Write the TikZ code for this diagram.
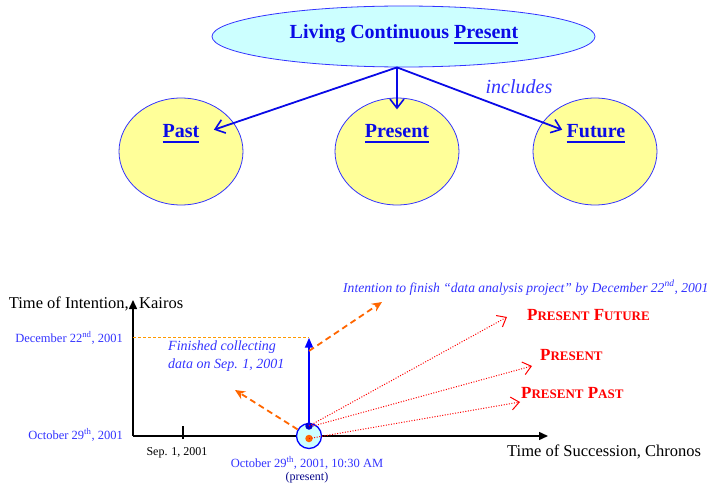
\documentclass[tikz,border=0pt]{standalone}
\usepackage{fontspec}
\setmainfont{Liberation Serif}[
	ItalicFont={Liberation Serif Italic},
	BoldFont={Liberation Serif Bold},
	BoldItalicFont={Liberation Serif Bold Italic}
]
\usetikzlibrary{
	arrows.meta,shapes.geometric,positioning,calc
}
\definecolor{lcpcyan}{RGB}{204,255,255}
\definecolor{circyellow}{RGB}{255,255,153}
\definecolor{deepblue}{RGB}{10,10,230}
\definecolor{lightblue}{RGB}{51,51,255}
\definecolor{dashorange}{RGB}{255,102,0}
\definecolor{dotorange}{RGB}{255,153,0}
\definecolor{presred}{RGB}{255,0,0}
\newcommand{\thickul}[1]{\setbox0\hbox{#1}\rlap{\copy0}\rule[-4.6pt]{\wd0}{1.6pt}}
\newcommand{\fakesc}[2]{#1{\fontsize{13}{15}\selectfont #2}}
\tikzset{
	bigellipse/.style={
		ellipse, minimum width=383pt, minimum height=61pt, inner sep=0pt,
		draw=lightblue, fill=lcpcyan, line width=0.8pt
	},
	%
	yellowcirc/.style={
		ellipse, minimum width=124pt, minimum height=107pt, inner sep=0pt,
		draw=lightblue, fill=circyellow, line width=0.8pt
	},
	%
	biglabel/.style={
		text=deepblue, font=\fontsize{20}{24}\selectfont\bfseries
	},
	%
	toparrow/.style={
		draw=deepblue, line width=1.8pt, -{Straight Barb[length=9pt,width=14pt,line width=1.6pt]}
	},
	%
	axislabel/.style={
		inner sep=0pt, font=\fontsize{16.5}{19}\selectfont
	},
	%
	datelabel/.style={
		inner sep=0pt, text=lightblue, font=\fontsize{12.5}{15}\selectfont
	},
	%
	notelabel/.style={
		inner sep=0pt, text=lightblue, font=\fontsize{14}{17}\selectfont\itshape
	},
	%
	sclabel/.style={
		inner sep=0pt, text=presred, font=\fontsize{17}{20}\selectfont\bfseries
	},
	%
	axisline/.style={
		draw=black, line width=1.5pt, -{Triangle[length=9pt,width=8pt]}
	},
	%
	intentarrow/.style={
		draw=dashorange, line width=1.8pt, dash pattern=on 6pt off 4pt,
		-{Stealth[length=10pt,width=9pt]}
	},
	%
	presarrow/.style={
		draw=presred, line width=1pt, dash pattern=on 1pt off 1.6pt,
		-{Straight Barb[length=8pt,width=13pt]}
	}
}

\begin{document}
\begin{tikzpicture}[x=1pt,y=-1pt]
	\useasboundingbox (0,0) rectangle (716,487);
	% living continuous present
	\node(lcp)[bigellipse] at (403.5,36.5){};
	\node(lcptext)[biglabel, anchor=base] at (404,39){Living Continuous \thickul{Present}};
	\node(pastcirc)[yellowcirc] at (181,151.5){};
	\node(prescirc)[yellowcirc] at (397,151.5){};
	\node(futcirc)[yellowcirc] at (595,151.5){};
	\node(pastlbl)[biglabel, anchor=base] at (181,138){\thickul{Past}};
	\node(preslbl)[biglabel, anchor=base] at (397,138){\thickul{Present}};
	\node(futlbl)[biglabel, anchor=base] at (596,138){\thickul{Future}};
	\coordinate(hub) at (lcp.south -| prescirc.center);
	\draw[toparrow] (hub) -- ([xshift=11pt,yshift=4pt]pastlbl.east);
	\draw[toparrow] (hub) -- ([yshift=12pt]preslbl.north);
	\draw[toparrow] (hub) -- ([xshift=-1pt,yshift=4pt]futlbl.west);
	\node(incl)[text=lightblue, font=\fontsize{20}{24}\selectfont\itshape] at (519,87){includes};
	% kairos and chronos axes
	\coordinate(O) at (133,436);
	\coordinate(ytop) at (133,300);
	\coordinate(xend) at (548,436);
	\coordinate(sep1) at (183,436);
	\draw[axisline] (O) -- (ytop);
	\draw[axisline] (O) -- (xend);
	\draw[line width=1.2pt] ([yshift=10pt]sep1) -- ([yshift=-3pt]sep1);
	\node(intention)[axislabel, anchor=base east] at (129,308){Time of Intention,};
	\node(kairos)[axislabel, anchor=base west] at (139,308){Kairos};
	\node(chronos)[axislabel, anchor=base west] at (507,456){Time of Succession, Chronos};
	\node(seplbl)[inner sep=0pt, font=\fontsize{12}{14}\selectfont, anchor=base] at (177,455){Sep. 1, 2001};
	\node(declbl)[datelabel, anchor=base east] at (123,342){December 22\textsuperscript{nd}, 2001};
	\node(octlbl)[datelabel, anchor=base east] at (123,439){October 29\textsuperscript{th}, 2001};
	\node(nowlbl)[datelabel, anchor=base] at (307,467){October 29\textsuperscript{th}, 2001, 10:30 AM};
	\node(presentlbl)[inner sep=0pt, text=deepblue!60!black, font=\fontsize{12}{14}\selectfont, anchor=base, below=3pt of nowlbl]{(present)};
	% the present moment
	\node(nowcirc)[circle, minimum size=25pt, inner sep=0pt, draw=blue, fill=lcpcyan, line width=1.3pt] at (309,436){};
	\node(bluedot)[circle, minimum size=7.5pt, inner sep=0pt, fill=blue!80!black] at (309,426){};
	\node(orangedot)[circle, minimum size=7.5pt, inner sep=0pt, fill=dashorange] at (309,438.5){};
	\coordinate(goal) at (declbl.east -| nowcirc.center);
	\draw[draw=dotorange, line width=1.5pt, dash pattern=on 3pt off 2pt] (declbl.east -| O) -- (goal);
	\draw[draw=blue, line width=1.8pt, -{Triangle[length=10pt,width=8pt]}] (bluedot.center) -- (goal);
	% intentions
	\node(finished)[notelabel, align=left, anchor=base west] at (168,368){Finished collecting\\[1pt]data on Sep. 1, 2001};
	\node(intent)[notelabel, font=\fontsize{13.6}{16}\selectfont\itshape, anchor=base west] at (343,292){Intention to finish “data analysis project” by December 22\textsuperscript{nd}, 2001};
	\coordinate(fintip) at (235,390);
	\coordinate(intenttip) at (382,302);
	\draw[intentarrow] (nowcirc.150) -- (fintip);
	\draw[intentarrow] ($(bluedot.center)!0.85!(goal)$) -- (intenttip);
	% present future, present, present past
	\node(presfut)[sclabel, anchor=base west] at (527,320){\fakesc{P}{RESENT} \fakesc{F}{UTURE}};
	\node(prespres)[sclabel, anchor=base west] at (540,360){\fakesc{P}{RESENT}};
	\node(prespast)[sclabel, anchor=base west] at (521,398){\fakesc{P}{RESENT} \fakesc{P}{AST}};
	\coordinate(pftip) at (507,317);
	\coordinate(pptip) at (532,366);
	\coordinate(pstip) at (520,402);
	\draw[presarrow] (bluedot.center) -- (pftip);
	\draw[presarrow] (bluedot.east) -- (pptip);
	\draw[presarrow] (orangedot.center) -- (pstip);
\end{tikzpicture}
\end{document}
